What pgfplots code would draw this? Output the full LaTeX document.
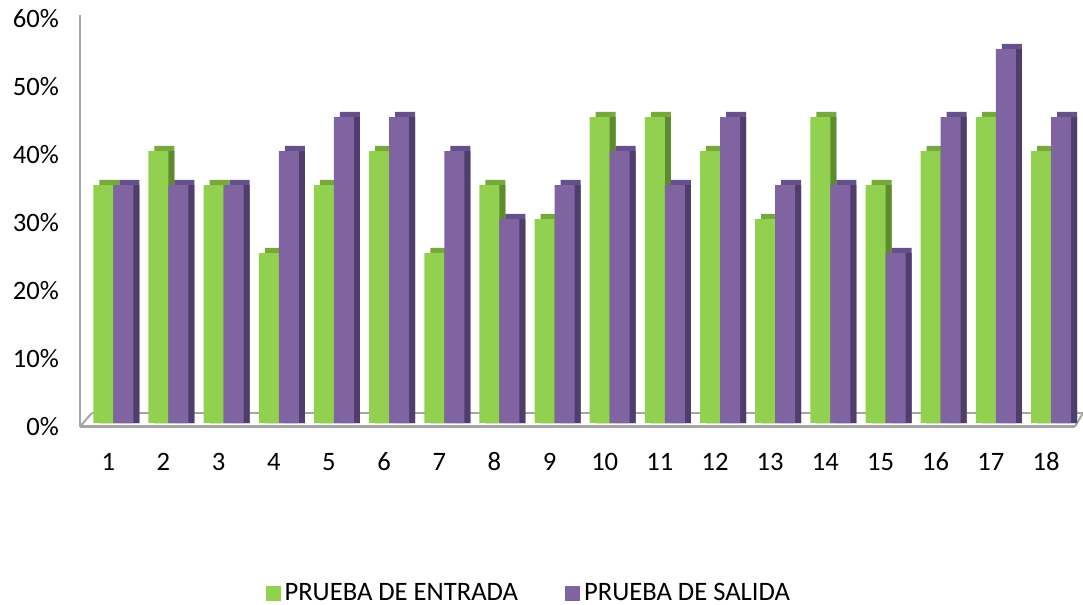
\documentclass[border=0pt]{standalone}
\usepackage{pgfplots}
\pgfplotsset{compat=1.18}
\usepackage{pgfplotstable}
\usepackage{fontspec}
\setmainfont[Numbers=Lining]{Carlito}

\definecolor{gfront}{HTML}{92D050}
\definecolor{gtop}{HTML}{76A83C}
\definecolor{gside}{HTML}{5F8B2F}
\definecolor{pfront}{HTML}{8064A2}
\definecolor{ptop}{HTML}{65508A}
\definecolor{pside}{HTML}{4F3D6B}
\definecolor{floorgray}{HTML}{A6A6A6}

% pregunta, prueba de entrada, prueba de salida (en %)
\pgfplotstableread{
x  g   p
1  35  35
2  40  35
3  35  35
4  25  40
5  35  45
6  40  45
7  25  40
8  35  30
9  30  35
10 45  40
11 45  35
12 40  45
13 30  35
14 45  35
15 35  25
16 40  45
17 45  55
18 40  45
}\datos

\begin{document}
\begin{tikzpicture}
\path[use as bounding box] (-40pt,-89.25pt) rectangle (501.5pt,213.25pt);
\begin{axis}[
  at={(0,0)}, anchor=south west,
  scale only axis, width=497.5pt, height=205.75pt,
  xmin=0.396, xmax=18.435, ymin=-0.51, ymax=60,
  ybar, bar width=10pt,
  axis x line*=bottom, axis y line*=left,
  axis line style={floorgray, line width=1.1pt, -},
  xtick=data, ytick={0,10,...,60},
  major tick length=0pt,
  tick style={draw=none},
  typeset ticklabels with strut,
  yticklabel={\pgfmathprintnumber{\tick}\%},
  /pgf/number format/assume math mode=true,
  ticklabel style={font=\fontsize{13.3}{15}\selectfont},
  yticklabel style={xshift=-7pt, yshift=-2pt},
  xticklabel style={xshift=-2.5pt, yshift=-8pt},
  clip=false,
  legend columns=2,
  legend style={draw=none, fill=none, at={(rel axis cs:0.452,-0.405)}, anchor=center,
    font=\fontsize{13.3}{15}\selectfont,
    /tikz/every even column/.append style={column sep=21.5pt}},
  legend image code/.code={\fill[#1] (0pt,-3.75pt) rectangle (7.5pt,3.75pt);},
]
% suelo
\draw[floorgray, line width=1pt] (axis cs:0.61,1.47) -- (axis cs:18.58,1.47);
\draw[floorgray, line width=1pt] (axis cs:0.396,-0.51) -- (axis cs:0.61,1.47);
\draw[floorgray, line width=1pt] (axis cs:18.435,-0.51) -- (axis cs:18.58,1.47);

% prueba de entrada
\addplot[forget plot, fill=gtop, draw=none, bar shift=-2pt] table[x=x, y expr=\thisrow{g}+0.74] {\datos};
\addplot[forget plot, fill=gside, draw=none, bar shift=-2pt] table[x=x, y=g] {\datos};
\addplot[fill=gfront, draw=none, bar shift=-5pt] table[x=x, y=g] {\datos};
\addlegendentry{PRUEBA DE ENTRADA}
% prueba de salida
\addplot[forget plot, fill=ptop, draw=none, bar shift=8pt] table[x=x, y expr=\thisrow{p}+0.74] {\datos};
\addplot[forget plot, fill=pside, draw=none, bar shift=8pt] table[x=x, y=p] {\datos};
\addplot[fill=pfront, draw=none, bar shift=5pt] table[x=x, y=p] {\datos};
\addlegendentry{PRUEBA DE SALIDA}
\end{axis}
\end{tikzpicture}
\end{document}
